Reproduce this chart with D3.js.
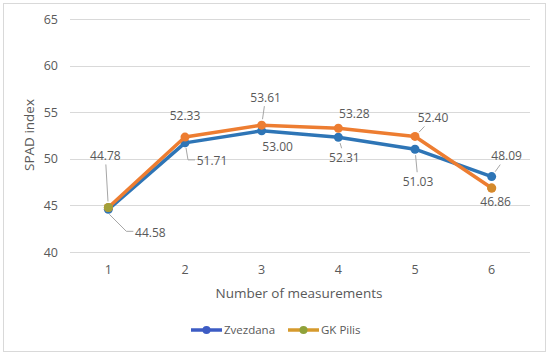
<!DOCTYPE html>
<html>
<head>
<meta charset="utf-8">
<script src="https://cdn.jsdelivr.net/npm/d3@7"></script>
<style>
body { margin: 0; background: #fff; }
svg text { font-family: "Open Sans", "Noto Sans", sans-serif; fill: #595959; }
</style>
</head>
<body>
<svg id="chart" width="550" height="355"></svg>
<script>
var measurements = ['1', '2', '3', '4', '5', '6'];
var zvezdana = [44.58, 51.71, 53.00, 52.31, 51.03, 48.09];
var gkPilis = [44.78, 52.33, 53.61, 53.28, 52.40, 46.86];
var yTicks = [40, 45, 50, 55, 60, 65];
var seriesNames = ['Zvezdana', 'GK Pilis'];

// label placement relative to each point (layout only)
var zOffsets = [[42, 23, 'elbow'], [27, 18, 'elbow'], [16, 16, ''], [6, 20, 'line'], [3, 32, 'line'], [15, -21, 'line']];
var gOffsets = [[-3, -52, 'line'], [0, -22, ''], [4, -28, 'line'], [16, -15, ''], [18, -19, 'line'], [4, 13, '']];

var svg = d3.select('#chart');
var plotLeft = 70, plotRight = 530, plotTop = 19, plotBottom = 252;

svg.append('rect')
    .attr('x', 3.5).attr('y', 3.5)
    .attr('width', 542).attr('height', 348)
    .attr('fill', '#fff')
    .attr('stroke', '#d9d9d9');

var x = d3.scaleBand().domain(measurements).range([plotLeft, plotRight]);
var y = d3.scaleLinear().domain([40, 65]).range([plotBottom, plotTop]);
var cx = function (d) { return x(d) + x.bandwidth() / 2; };

svg.append('g').selectAll('line')
    .data(yTicks).enter().append('line')
    .attr('x1', plotLeft).attr('x2', plotRight)
    .attr('y1', function (d) { return Math.round(y(d)) + 0.5; })
    .attr('y2', function (d) { return Math.round(y(d)) + 0.5; })
    .attr('stroke', '#d9d9d9').attr('stroke-width', 1);

svg.append('g').selectAll('text')
    .data(yTicks).enter().append('text')
    .attr('x', 58).attr('y', function (d) { return y(d) + 4.5; })
    .attr('text-anchor', 'end')
    .style('font-size', '12.5px')
    .text(function (d) { return d; });

svg.append('g').selectAll('text')
    .data(measurements).enter().append('text')
    .attr('x', cx).attr('y', 274)
    .attr('text-anchor', 'middle')
    .style('font-size', '12.5px')
    .text(function (d) { return d; });

svg.append('text')
    .attr('x', 299).attr('y', 298)
    .attr('text-anchor', 'middle')
    .style('font-size', '13.5px')
    .text('Number of measurements');

svg.append('text')
    .attr('transform', 'translate(34,' + 135 + ') rotate(-90)')
    .attr('text-anchor', 'middle')
    .style('font-size', '13.5px')
    .text('SPAD index');

var line = d3.line()
    .x(function (d, i) { return cx(measurements[i]); })
    .y(function (d) { return y(d); });

function drawSeries(vals, color) {
    svg.append('path')
        .datum(vals)
        .attr('d', line)
        .attr('fill', 'none')
        .attr('stroke', color)
        .attr('stroke-width', 3.5)
        .attr('stroke-linejoin', 'round');
    svg.append('g').selectAll('circle')
        .data(vals).enter().append('circle')
        .attr('cx', function (d, i) { return cx(measurements[i]); })
        .attr('cy', function (d) { return y(d); })
        .attr('r', 4.5)
        .attr('fill', color);
}

drawSeries(zvezdana, '#2e75b6');
drawSeries(gkPilis, '#ed7d31');

// olive tint on first point, as in the reference
svg.append('circle')
    .attr('cx', cx(measurements[0])).attr('cy', y(gkPilis[0]))
    .attr('r', 4.5).attr('fill', '#a2a03a');
svg.append('circle')
    .attr('cx', cx(measurements[5])).attr('cy', y(gkPilis[5]))
    .attr('r', 4.5).attr('fill', '#d38a2c');

function drawLabels(vals, offsets) {
    vals.forEach(function (v, i) {
        var px = cx(measurements[i]), py = y(v);
        var lx = px + offsets[i][0], ly = py + offsets[i][1];
        var kind = offsets[i][2];
        if (kind === 'line') {
            var dx = lx - px, dy = ly - py;
            var hw = 17, hh = 9;
            var t = Math.min(hw / Math.abs(dx || 0.001), hh / Math.abs(dy || 0.001));
            var dist = Math.sqrt(dx * dx + dy * dy);
            svg.append('line')
                .attr('x1', px + dx / dist * 6).attr('y1', py + dy / dist * 6)
                .attr('x2', lx - dx * t).attr('y2', ly - dy * t)
                .attr('stroke', '#a6a6a6').attr('stroke-width', 1);
        } else if (kind === 'elbow') {
            var ex = lx - 17, ey = ly - 1;
            svg.append('path')
                .attr('d', 'M' + (px + 1) + ',' + (py + 5) + 'L' + (ex - 7) + ',' + ey + 'L' + ex + ',' + ey)
                .attr('fill', 'none')
                .attr('stroke', '#a6a6a6').attr('stroke-width', 1);
        }
        svg.append('text')
            .attr('x', lx).attr('y', ly + 4.5)
            .attr('text-anchor', 'middle')
            .style('font-size', '12px')
            .text(v.toFixed(2));
    });
}

drawLabels(gkPilis, gOffsets);
drawLabels(zvezdana, zOffsets);

// legend
var legend = [
    { name: seriesNames[0], x: 191, line: '#3d5cc4', dot: '#3d5cc4' },
    { name: seriesNames[1], x: 288, line: '#d69a2d', dot: '#8fa23a' }
];
var lg = svg.append('g').selectAll('g')
    .data(legend).enter().append('g')
    .attr('transform', function (d) { return 'translate(' + d.x + ',330)'; });
lg.append('line')
    .attr('x1', 0).attr('x2', 31).attr('y1', 0).attr('y2', 0)
    .attr('stroke', function (d) { return d.line; })
    .attr('stroke-width', 3.5);
lg.append('circle')
    .attr('cx', 15.5).attr('cy', 0).attr('r', 4)
    .attr('fill', function (d) { return d.dot; });
lg.append('text')
    .attr('x', 33).attr('y', 4)
    .style('font-size', '11.5px')
    .text(function (d) { return d.name; });
</script>
</body>
</html>
